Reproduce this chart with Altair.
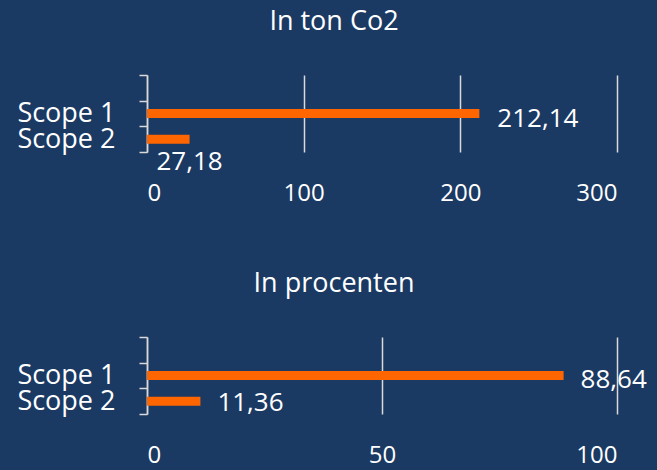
import altair as alt
import pandas as pd
import jinja2

categories = ["Scope 1", "Scope 2"]
ton_values = [212.14, 27.18]
pct_values = [88.64, 11.36]
ton_ticks = [0, 100, 200, 300]
pct_ticks = [0, 50, 100]
y_domain = [" ", "Scope 1", "Scope 2"]
titles = ["In ton Co2", "In procenten"]

BG = "#1b3a63"
ORANGE = "#ff6600"
GRID = "#d9d9d9"
FONT = "Open Sans"


def panel(values, ticks, title, label_styles):
    df = pd.DataFrame({"cat": categories, "val": values})
    base = alt.Chart(df).transform_calculate(
        lab="replace(format(datum.val, '.2f'), '.', ',')"
    )
    x = alt.X(
        "val:Q",
        scale=alt.Scale(domain=[ticks[0], ticks[-1]], nice=False, zero=True),
        axis=alt.Axis(
            values=ticks, grid=True, gridColor=GRID, gridWidth=1.5,
            domain=False, ticks=False, labelPadding=29, labelFontSize=24,
            labelColor="white", labelFont=FONT, title=None, format="d",
        ),
    )
    y = alt.Y(
        "cat:N",
        scale=alt.Scale(domain=y_domain, paddingInner=0, paddingOuter=0),
        axis=alt.Axis(
            title=None, tickBand="extent", grid=False, domainColor=GRID,
            domainWidth=1.5, tickColor=GRID, tickWidth=1.5, tickSize=8,
            labelPadding=24, labelFontSize=27, labelColor="white",
            labelFont=FONT, minExtent=139, maxExtent=139,
        ),
    )
    bars = base.mark_bar(size=9, color=ORANGE).encode(x=x, y=y)
    layers = [bars]
    for cat, align, dx, dy in label_styles:
        layers.append(
            base.transform_filter(alt.datum.cat == cat)
            .mark_text(align=align, baseline="middle", dx=dx, dy=dy,
                       fontSize=26, font=FONT, color="white")
            .encode(x="val:Q", y="cat:N", text="lab:N")
        )
    return alt.layer(*layers).properties(
        width=470, height=77,
        title=alt.TitleParams(title, fontSize=27, color="white", font=FONT,
                              fontWeight="normal", frame="group",
                              anchor="middle", offset=25, dx=-48),
    )


top = panel(ton_values, ton_ticks, titles[0],
            [("Scope 1", "left", 18, 5), ("Scope 2", "center", 0, 23)])
bottom = panel(pct_values, pct_ticks, titles[1],
               [("Scope 1", "left", 17, 4), ("Scope 2", "left", 17, 2)])

chart = (
    alt.vconcat(top, bottom, spacing=65)
    .configure(background=BG, padding=0)
    .configure_view(stroke=None)
)

PAGE = jinja2.Template("""<!DOCTYPE html>
<html>
<head>
  <style>html, body { background: """ + BG + """; }</style>
  <script type="text/javascript" src="{{ base_url }}/vega@{{ vega_version }}"></script>
  <script type="text/javascript" src="{{ base_url }}/vega-lite@{{ vegalite_version }}"></script>
  <script type="text/javascript" src="{{ base_url }}/vega-embed@{{ vegaembed_version }}"></script>
</head>
<body>
  <div id="{{ output_div }}"></div>
  <script type="text/javascript">
    var spec = {{ spec }};
    var embedOpt = {{ embed_options }};
    vegaEmbed("#{{ output_div }}", spec, embedOpt).catch(console.error);
  </script>
</body>
</html>
""")

chart.save("out.html", embed_options={"renderer": "svg", "actions": False},
           template=PAGE)
